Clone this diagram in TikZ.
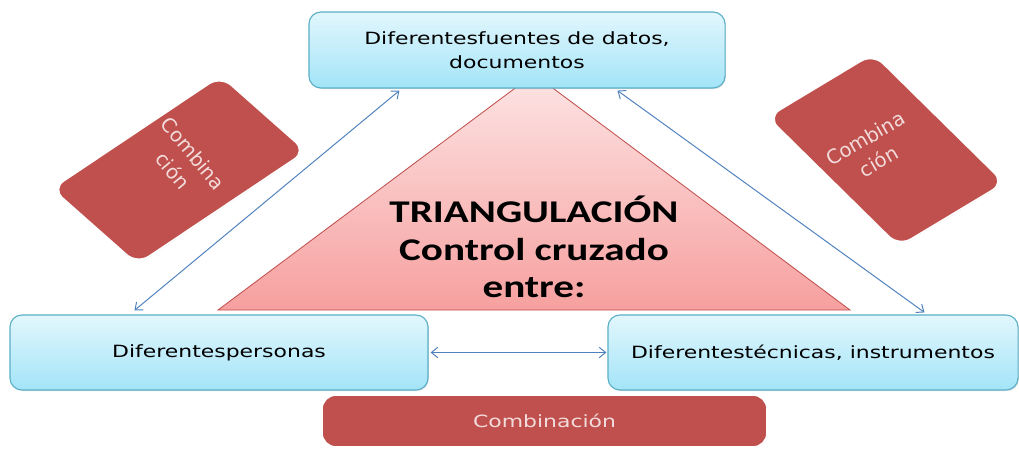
\documentclass[tikz,border=0pt]{standalone}
\usepackage{fontspec}
\newfontfamily\boxfont{DejaVu Sans}[FakeStretch=1.3]
\newfontfamily\rotfont{DejaVu Sans}
\newfontfamily\trifont{Carlito}[FakeStretch=1.3]
\usetikzlibrary{arrows.meta,shadows}
\definecolor{boxtop}{HTML}{E2F7FD}
\definecolor{boxbot}{HTML}{A3E4F8}
\definecolor{boxline}{HTML}{5BAFC7}
\definecolor{combred}{HTML}{C0504D}
\definecolor{combtext}{HTML}{F2DCDB}
\definecolor{tritop}{HTML}{FDE4E4}
\definecolor{tribot}{HTML}{F6A09F}
\definecolor{linkblue}{HTML}{4F81BD}
\tikzset{fuente/.style={rectangle,rounded corners=3mm,draw=boxline,line width=0.8pt,top color=boxtop,bottom color=boxbot,
		font=\boxfont\fontsize{12}{17}\selectfont,align=center,inner sep=0pt,
		drop shadow={opacity=0.25,shadow xshift=0.6pt,shadow yshift=-0.8pt}},
	 comb/.style={rectangle,rounded corners=3.5mm,draw=white,line width=1.2pt,fill=combred,text=combtext,align=center,inner sep=0pt,
		drop shadow={opacity=0.2,shadow xshift=0.5pt,shadow yshift=-0.5pt}},
	 combtxt/.style={text=combtext,align=center,inner sep=0pt,font=\rotfont\fontsize{14}{19}\selectfont},
	 link/.style={linkblue,line width=0.7pt,{Straight Barb[length=1.6mm,width=2.6mm]}-{Straight Barb[length=1.6mm,width=2.6mm]}}
	 }

\begin{document}
\begin{tikzpicture}[x=0.025cm,y=-0.025cm] % triangulacion
	\useasboundingbox (0,0) rectangle (1019,448);
	\shade[top color=tritop,bottom color=tribot,draw=combred,line width=0.6pt] (534,74) -- (850,310) -- (218,310) -- cycle;
	\node[font=\trifont\bfseries\fontsize{22.5}{26.5}\selectfont,align=center] (titulo) at (534,247) {TRIANGULACIÓN\\Control cruzado\\entre:};
	\node[fuente,minimum width=10.4cm,minimum height=1.9cm] (fuentes) at (517,50) {Diferentesfuentes de datos,\\documentos};
	\node[fuente,minimum width=10.45cm,minimum height=1.875cm] (personas) at (219,352.5) {Diferentespersonas};
	\node[fuente,minimum width=10.25cm,minimum height=1.875cm] (tecnicas) at (813,352.5) {Diferentestécnicas, instrumentos};
	\node[comb,minimum width=11.125cm,minimum height=1.3cm,font=\boxfont\fontsize{12}{14}\selectfont] (combinacion) at (544.5,421) {Combinación};
	\begin{scope}[shift={(179,170)},xscale=1.3]
		\node[comb,transform shape,rotate=-49,minimum width=2.5cm,minimum height=4.3cm] (combizq) at (0,0) {};
	\end{scope}
	\begin{scope}[shift={(886,150)},xscale=1.3]
		\node[comb,transform shape,rotate=38,minimum width=2.575cm,minimum height=4.1cm] (combder) at (0,0) {};
	\end{scope}
	\node[combtxt,rotate=-50] (txtizq) at ([xshift=0.1cm,yshift=0.2cm]combizq.center) {Combina\\ción};
	\node[combtxt,rotate=30] (txtder) at ([xshift=-0.35cm]combder.center) {Combina\\ción};
	\draw[link] ([xshift=2.275cm,yshift=-0.05cm]fuentes.south west) -- ([xshift=3.125cm,yshift=0.1cm]personas.north west);
	\draw[link] ([xshift=7.725cm,yshift=-0.05cm]fuentes.south west) -- ([xshift=7.925cm,yshift=0.05cm]tecnicas.north west);
	\draw[link] ([xshift=0.05cm]personas.east) -- ([xshift=-0.025cm]tecnicas.west);
\end{tikzpicture}
\end{document}
